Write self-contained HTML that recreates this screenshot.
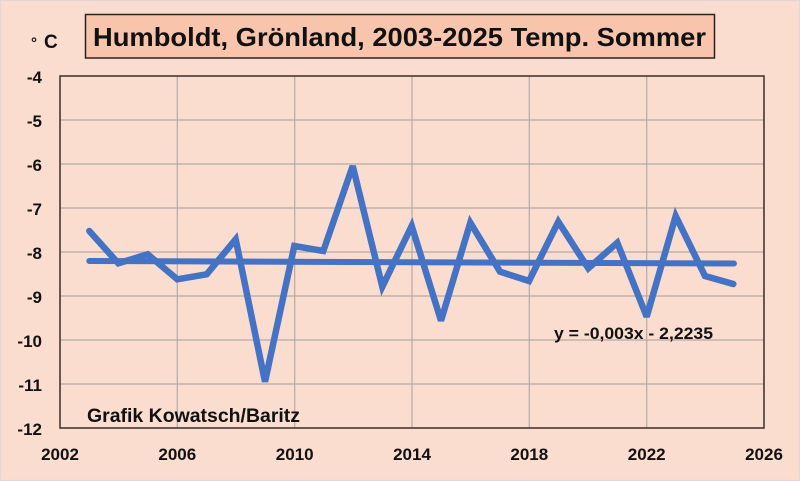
<!DOCTYPE html>
<html><head><meta charset="utf-8"><style>
html,body{margin:0;padding:0;background:#fbddd0;}
svg{display:block;}
text{font-family:"Liberation Sans",sans-serif;font-weight:bold;fill:#111;}
</style></head><body>
<svg width="800" height="481" viewBox="0 0 800 481" xmlns="http://www.w3.org/2000/svg">
<rect x="0" y="0" width="800" height="481" fill="#fbddd0"/>
<rect x="0.5" y="0.5" width="799" height="480" fill="none" stroke="#e4d6d0" stroke-width="1.5"/>
<!-- title box -->
<rect x="85.5" y="14.5" width="629" height="43.5" fill="#f8c4ab" stroke="#2a2220" stroke-width="1.5"/>
<text x="93" y="46" font-size="26" textLength="613" lengthAdjust="spacingAndGlyphs">Humboldt, Grönland, 2003-2025 Temp. Sommer</text>
<text x="31" y="48" font-size="15">°</text>
<text x="44" y="48" font-size="19">C</text>
<!-- grid -->
<g stroke="#b3aaa5" stroke-width="1.2">
<line x1="60" y1="120" x2="764" y2="120"/>
<line x1="60" y1="164" x2="764" y2="164"/>
<line x1="60" y1="208" x2="764" y2="208"/>
<line x1="60" y1="252" x2="764" y2="252"/>
<line x1="60" y1="296" x2="764" y2="296"/>
<line x1="60" y1="340" x2="764" y2="340"/>
<line x1="60" y1="384" x2="764" y2="384"/>
<line x1="177.3" y1="76" x2="177.3" y2="428"/>
<line x1="294.7" y1="76" x2="294.7" y2="428"/>
<line x1="412" y1="76" x2="412" y2="428"/>
<line x1="529.3" y1="76" x2="529.3" y2="428"/>
<line x1="646.7" y1="76" x2="646.7" y2="428"/>
</g>
<rect x="60" y="76" width="704" height="352" fill="none" stroke="#3a2e2a" stroke-width="1.5"/>
<!-- y labels -->
<g font-size="17" text-anchor="end">
<text x="42" y="83">-4</text>
<text x="42" y="127">-5</text>
<text x="42" y="171">-6</text>
<text x="42" y="215">-7</text>
<text x="42" y="259">-8</text>
<text x="42" y="303">-9</text>
<text x="42" y="347">-10</text>
<text x="42" y="391">-11</text>
<text x="42" y="435">-12</text>
</g>
<!-- x labels -->
<g font-size="17" text-anchor="middle">
<text x="60" y="460">2002</text>
<text x="177.3" y="460">2006</text>
<text x="294.7" y="460">2010</text>
<text x="412" y="460">2014</text>
<text x="529.3" y="460">2018</text>
<text x="646.7" y="460">2022</text>
<text x="764" y="460">2026</text>
</g>
<!-- trend -->
<line x1="89.3" y1="261" x2="734" y2="263.5" stroke="#4472c4" stroke-width="6" stroke-linecap="round"/>
<!-- data -->
<polyline fill="none" stroke="#4472c4" stroke-width="6.5" stroke-linejoin="miter" stroke-miterlimit="3" stroke-linecap="round"
points="89.3,231 118.3,263.3 147.7,254.3 177.3,279.3 206.7,274.3 235.7,239.3 265,381.7 294.3,246 323.3,251 352.7,166 382.3,286.7 411.7,226 441,320.7 470.3,222.7 500,271.7 529,281 558.3,221.7 588.3,268.3 617.3,242.7 646.7,316.7 675.7,216 705,276 733.3,284"/>
<text x="554" y="339" font-size="16.5" textLength="159" lengthAdjust="spacingAndGlyphs">y = -0,003x - 2,2235</text>
<text x="87" y="422" font-size="19" textLength="213" lengthAdjust="spacingAndGlyphs">Grafik Kowatsch/Baritz</text>
</svg>
</body></html>
